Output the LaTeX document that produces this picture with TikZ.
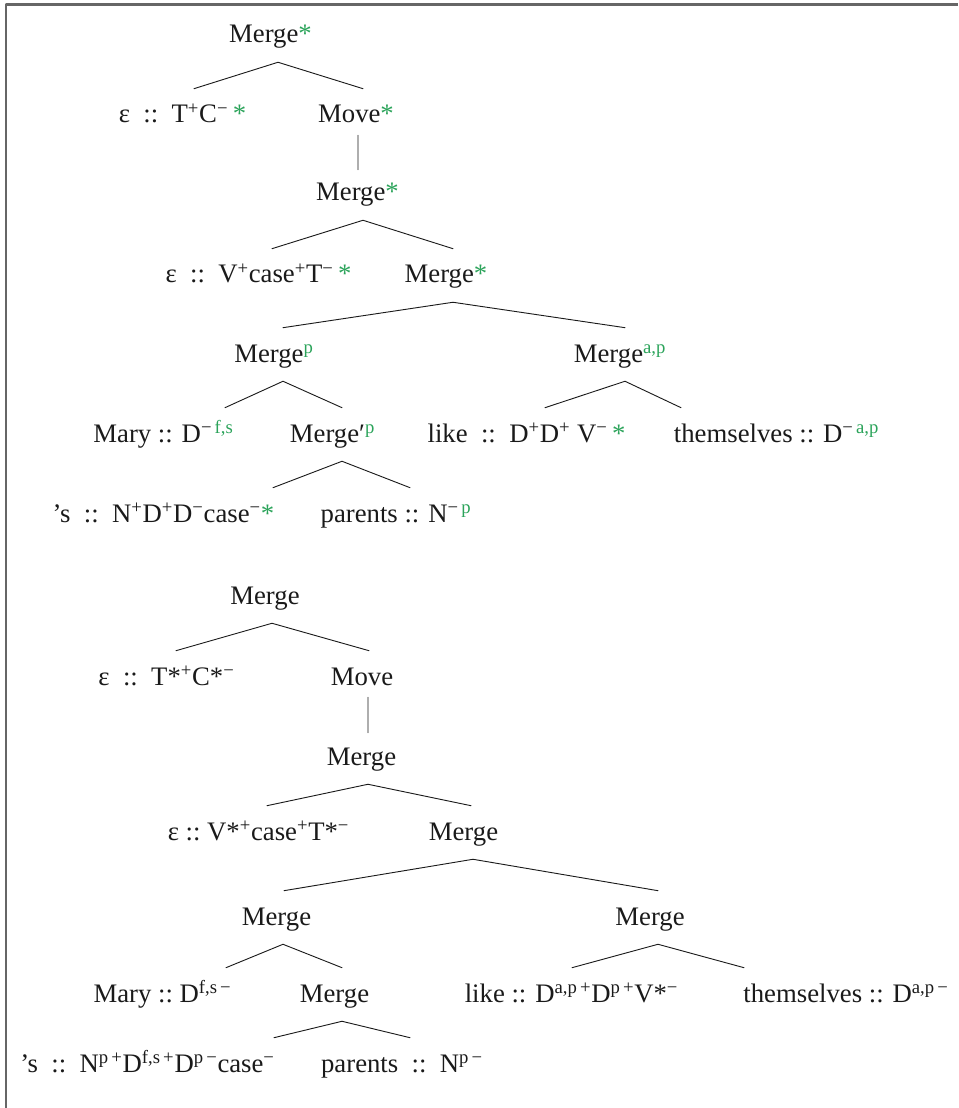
\documentclass[tikz,border=0pt]{standalone}
\usepackage{fontspec}
\setmainfont{Liberation Serif}
\usepackage{xcolor}
\usetikzlibrary{calc}
\definecolor{FeatGreen}{HTML}{2BA35A}
\definecolor{FrameGray}{HTML}{666666}
\definecolor{TreeBlack}{HTML}{1A1A1A}
\tikzset{
  every picture/.style = {line join=round, line cap=round},
  tree node/.style = {
    anchor=base,
    inner sep=0pt,
    text height=24.2pt,
    text depth=13.5pt,
    font=\fontsize{19}{22}\selectfont,
    text=TreeBlack
  },
  branch/.style = {draw=TreeBlack, line width=0.65pt},
  frame line/.style = {draw=FrameGray, line width=1.7pt, line cap=butt},
}
\newcommand{\Feat}[1]{\textcolor{FeatGreen}{#1}}
\newcommand{\Up}[1]{\textsuperscript{#1}}
\newcommand{\Star}{\textcolor{FeatGreen}{*}}
\newcommand{\Branch}[4]{%
  \draw[branch] ($(#1.south)+(#2,0)$) -- ($(#3.north)+(#4,0)$);
}

\begin{document}
\begin{tikzpicture}[x=0.025cm, y=-0.025cm]
  \useasboundingbox (0,0) rectangle (958,1108);
  \draw[frame line] (958,4.5) -- (6,4.5) -- (6,1108);

  % derivation with feature marks
  \node[tree node] (rootA) at (270.5,43) {Merge\Star};
  \node[tree node] (tcA) at (182.5,123) {ε~~::~~T\Up{+}C\Up{−}\,\Star};
  \node[tree node] (moveA) at (356,123) {Move\Star};
  \node[tree node] (mergeA3) at (357.5,201) {Merge\Star};
  \node[tree node] (vcaseA) at (258.5,283) {ε~~::~~V\Up{+}case\Up{+}T\Up{−}\,\Star};
  \node[tree node] (mergeA4) at (446,283) {Merge\Star};
  \node[tree node] (mergeApL) at (274,362) {Merge\Up{\Feat{p}}};
  \node[tree node] (mergeApR) at (620,362) {Merge\Up{\Feat{a,p}}};
  \node[tree node] (maryA) at (163.5,442) {Mary :: D\Up{−\,\Feat{f,s}}};
  \node[tree node] (primeA) at (332.5,442) {Merge′\Up{\Feat{p}}};
  \node[tree node] (likeA) at (526.5,442) {like~~::~~D\Up{+}D\Up{+} V\Up{−}\,\Star};
  \node[tree node] (themA) at (776.5,442) {themselves :: D\Up{−\,\Feat{a,p}}};
  \node[tree node] (sA) at (163.5,522) {’s~~::~~N\Up{+}D\Up{+}D\Up{−}case\Up{−}\Star};
  \node[tree node] (parentsA) at (396,522) {parents :: N\Up{−\,\Feat{p}}};

  \Branch{rootA}{7.5}{tcA}{11.5}
  \Branch{rootA}{7.5}{moveA}{7}
  \draw[branch] ($(moveA.south)+(2,-7)$) -- ($(mergeA3.north)+(0.5,3)$);
  \Branch{mergeA3}{5.5}{vcaseA}{13.5}
  \Branch{mergeA3}{5.5}{mergeA4}{7}
  \Branch{mergeA4}{7}{mergeApL}{9}
  \Branch{mergeA4}{7}{mergeApR}{5}
  \Branch{mergeApL}{9}{maryA}{61.5}
  \Branch{mergeApL}{9}{primeA}{9.5}
  \Branch{mergeApR}{5}{likeA}{18.5}
  \Branch{mergeApR}{5}{themA}{-95.5}
  \Branch{primeA}{9.5}{sA}{109.5}
  \Branch{primeA}{9.5}{parentsA}{14}

  % same derivation, features moved into the categories
  \node[tree node] (rootB) at (265,604) {Merge};
  \node[tree node] (tcB) at (166.5,685) {ε~~::~~T*\Up{+}C*\Up{−}};
  \node[tree node] (moveB) at (362,685) {Move};
  \node[tree node] (mergeB3) at (361.5,765) {Merge};
  \node[tree node] (vcaseB) at (258.5,840) {ε~::~V*\Up{+}case\Up{+}T*\Up{−}};
  \node[tree node] (mergeB4) at (463.5,840) {Merge};
  \node[tree node] (mergeB5L) at (276.5,925) {Merge};
  \node[tree node] (mergeB5R) at (650,925) {Merge};
  \node[tree node] (maryB) at (162.5,1002) {Mary~::~D\Up{f,s\,−}};
  \node[tree node] (mergeB6) at (334.5,1002) {Merge};
  \node[tree node] (likeB) at (571.5,1002) {like :: D\Up{a,p\,+}D\Up{p\,+}V*\Up{−}};
  \node[tree node] (themB) at (846,1002) {themselves :: D\Up{a,p\,−}};
  \node[tree node] (sB) at (147.5,1072) {’s~~::~~N\Up{p\,+}D\Up{f,s\,+}D\Up{p\,−}case\Up{−}};
  \node[tree node] (parentsB) at (402,1072) {parents~~::~~N\Up{p\,−}};

  \Branch{rootB}{7}{tcB}{9.5}
  \Branch{rootB}{7}{moveB}{7}
  \draw[branch] ($(moveB.south)+(6,-7)$) -- ($(mergeB3.north)+(6.5,2)$);
  \Branch{mergeB3}{6.5}{vcaseB}{8.5}
  \Branch{mergeB3}{6.5}{mergeB4}{7.5}
  \Branch{mergeB4}{9.5}{mergeB5L}{7.5}
  \Branch{mergeB4}{9.5}{mergeB5R}{8}
  \Branch{mergeB5L}{6.5}{maryB}{63.5}
  \Branch{mergeB5L}{6.5}{mergeB6}{7.5}
  \Branch{mergeB5R}{8}{likeB}{0.5}
  \Branch{mergeB5R}{8}{themB}{-102}
  \Branch{mergeB6}{7.5}{sB}{126.5}
  \Branch{mergeB6}{7.5}{parentsB}{8}
\end{tikzpicture}
\end{document}
